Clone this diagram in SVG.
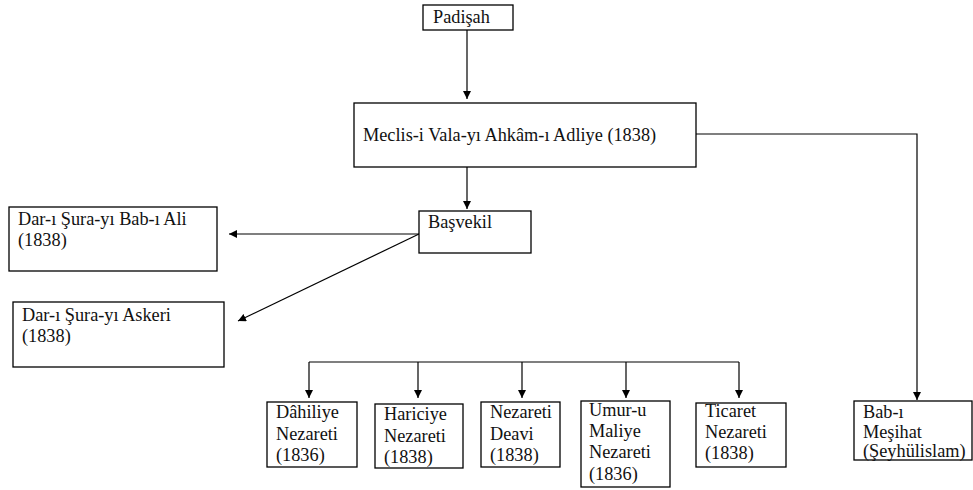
<svg xmlns="http://www.w3.org/2000/svg" width="973" height="490" viewBox="0 0 973 490">
<style>
.box{fill:#fff;stroke:#000;stroke-width:1.3}
.t{font-family:"Liberation Serif","Times New Roman",serif;font-size:18.3px;fill:#111}
.c{fill:none;stroke:#000;stroke-width:1.2}
</style>
<defs>
<marker id="ah" viewBox="0 0 10 10" refX="10" refY="5" markerWidth="8" markerHeight="8" markerUnits="userSpaceOnUse" orient="auto">
<path d="M0,0 L10,5 L0,10 z" fill="#000"/>
</marker>
</defs>
<rect width="973" height="490" fill="#fff"/>
<g id="connectors">
<line class="c" x1="467" y1="30" x2="467" y2="99" marker-end="url(#ah)"/>
<line class="c" x1="467" y1="167" x2="467" y2="209" marker-end="url(#ah)"/>
<polyline class="c" points="696,134 917,134 917,400" marker-end="url(#ah)"/>
<line class="c" x1="419" y1="234" x2="229" y2="234" marker-end="url(#ah)"/>
<line class="c" x1="419" y1="234" x2="238" y2="321" marker-end="url(#ah)"/>
<line class="c" x1="309" y1="362" x2="739" y2="362"/>
<line class="c" x1="309" y1="362" x2="309" y2="398" marker-end="url(#ah)"/>
<line class="c" x1="418" y1="362" x2="418" y2="398" marker-end="url(#ah)"/>
<line class="c" x1="522" y1="362" x2="522" y2="398" marker-end="url(#ah)"/>
<line class="c" x1="626" y1="362" x2="626" y2="398" marker-end="url(#ah)"/>
<line class="c" x1="739" y1="362" x2="739" y2="398" marker-end="url(#ah)"/>
</g>
<g id="padisah">
<rect class="box" x="423" y="5" width="90" height="25"/>
<text class="t" x="433" y="23">Padişah</text>
</g>
<g id="meclis">
<rect class="box" x="354" y="103" width="342" height="64"/>
<text class="t" x="363" y="141">Meclis-i Vala-yı Ahkâm-ı Adliye (1838)</text>
</g>
<g id="basvekil">
<rect class="box" x="419" y="211" width="112" height="42"/>
<text class="t" x="428" y="228">Başvekil</text>
</g>
<g id="babiali">
<rect class="box" x="9" y="207" width="208" height="64"/>
<text class="t" x="18" y="225">Dar-ı Şura-yı Bab-ı Ali</text>
<text class="t" x="18" y="246">(1838)</text>
</g>
<g id="askeri">
<rect class="box" x="13" y="302" width="211" height="65"/>
<text class="t" x="22" y="321">Dar-ı Şura-yı Askeri</text>
<text class="t" x="22" y="342">(1838)</text>
</g>
<g id="dahiliye">
<rect class="box" x="267" y="402" width="90" height="65"/>
<text class="t" x="276" y="418">Dâhiliye</text>
<text class="t" x="276" y="440">Nezareti</text>
<text class="t" x="276" y="461">(1836)</text>
</g>
<g id="hariciye">
<rect class="box" x="375" y="404" width="88" height="64"/>
<text class="t" x="384" y="420">Hariciye</text>
<text class="t" x="384" y="442">Nezareti</text>
<text class="t" x="384" y="463">(1838)</text>
</g>
<g id="deavi">
<rect class="box" x="481" y="402" width="79" height="65"/>
<text class="t" x="490" y="418">Nezareti</text>
<text class="t" x="490" y="440">Deavi</text>
<text class="t" x="490" y="461">(1838)</text>
</g>
<g id="maliye">
<rect class="box" x="581" y="401" width="89" height="86"/>
<text class="t" x="589" y="416">Umur-u</text>
<text class="t" x="589" y="437">Maliye</text>
<text class="t" x="589" y="458">Nezareti</text>
<text class="t" x="589" y="480">(1836)</text>
</g>
<g id="ticaret">
<rect class="box" x="696" y="403" width="90" height="64"/>
<text class="t" x="705" y="417">Ticaret</text>
<text class="t" x="705" y="438">Nezareti</text>
<text class="t" x="705" y="459">(1838)</text>
</g>
<g id="mesihat">
<rect class="box" x="854" y="401" width="118" height="59"/>
<text class="t" x="863" y="418">Bab-ı</text>
<text class="t" x="863" y="438">Meşihat</text>
<text class="t" x="863" y="457">(Şeyhülislam)</text>
</g>
</svg>
